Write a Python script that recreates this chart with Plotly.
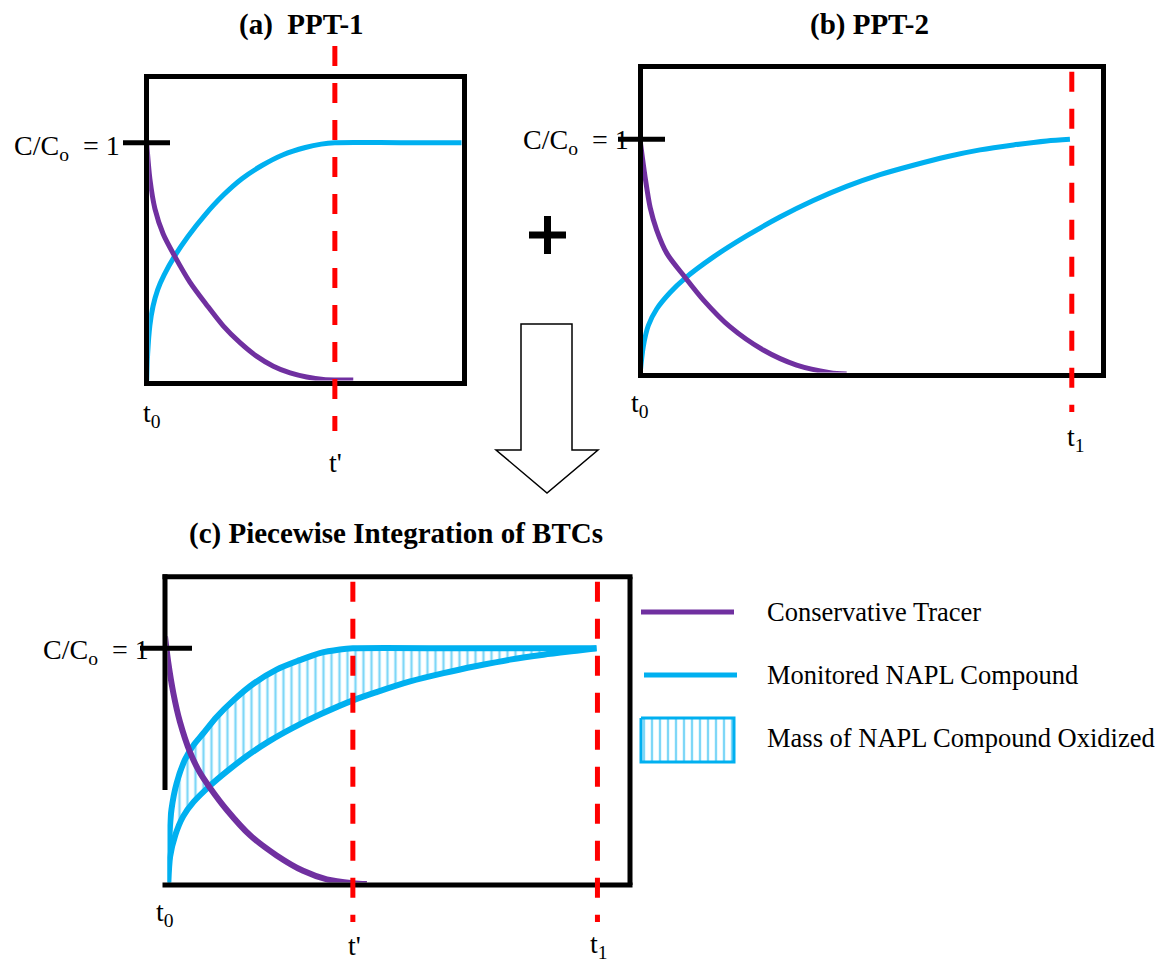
import plotly.graph_objects as go

# page geometry: the browser puts an 8px body margin round the figure
REF_W, REF_H = 1163, 963
OFF = 8
FW, FH = REF_W - OFF, REF_H - OFF

# ---------------- data (time axis: box width = 10 units) ----------------
# (a) PPT-1
a_tracer_t = [0.00, 0.10, 0.26, 0.52, 0.89, 1.36, 1.89, 2.41, 2.94, 3.46, 3.99, 4.52, 5.04, 5.57, 6.51]
a_tracer_c = [1.00, 0.85, 0.725, 0.62, 0.526, 0.42, 0.325, 0.238, 0.168, 0.112, 0.070, 0.042, 0.025, 0.015, 0.012]
a_napl_t = [0.00, 0.03, 0.10, 0.20, 0.35, 0.55, 0.89, 1.30, 1.84, 2.40, 3.00, 3.63, 4.30, 5.00, 5.50, 5.93, 8.00, 10.0]
a_napl_c = [0.00, 0.12, 0.24, 0.32, 0.39, 0.45, 0.53, 0.61, 0.70, 0.78, 0.85, 0.905, 0.95, 0.98, 0.994, 1.00, 1.00, 1.00]
a_t_prime = 5.93

# (b) PPT-2
b_tracer_t = [0.00, 0.11, 0.22, 0.36, 0.58, 0.97, 1.37, 1.94, 2.66, 3.38, 4.10, 4.46]
b_tracer_c = [1.00, 0.84, 0.71, 0.615, 0.516, 0.415, 0.318, 0.205, 0.106, 0.042, 0.010, 0.004]
b_napl_t = [0.00, 0.07, 0.18, 0.36, 0.65, 0.97, 1.58, 2.30, 3.02, 3.74, 4.46, 5.18, 5.90, 6.62, 7.34, 8.06, 8.78, 9.28]
b_napl_c = [0.00, 0.12, 0.21, 0.28, 0.35, 0.41, 0.50, 0.59, 0.67, 0.74, 0.80, 0.85, 0.89, 0.926, 0.955, 0.976, 0.993, 1.00]
b_t1 = 9.32

# (c) piecewise integration
c_tracer_t = [0.00, 0.07, 0.18, 0.32, 0.54, 0.75, 0.97, 1.33, 1.83, 2.40, 2.97, 3.48, 4.04, 4.34]
c_tracer_c = [1.05, 0.94, 0.81, 0.69, 0.56, 0.475, 0.41, 0.317, 0.21, 0.125, 0.06, 0.024, 0.008, 0.004]
c_ppt1_t = [0.05, 0.09, 0.14, 0.25, 0.43, 0.61, 0.82, 1.11, 1.47, 1.90, 2.40, 2.90, 3.33, 3.76, 4.04, 6.50, 9.28]
c_ppt1_c = [0.00, 0.20, 0.32, 0.43, 0.53, 0.59, 0.64, 0.71, 0.78, 0.85, 0.91, 0.95, 0.98, 0.995, 1.00, 1.00, 1.00]
c_ppt2_t = [0.07, 0.11, 0.22, 0.39, 0.61, 0.97, 1.33, 1.76, 2.26, 2.76, 3.33, 4.04, 4.55, 5.27, 5.99, 6.70, 7.42, 8.14, 8.85, 9.28]
c_ppt2_c = [0.00, 0.12, 0.21, 0.29, 0.35, 0.42, 0.48, 0.545, 0.61, 0.665, 0.72, 0.78, 0.815, 0.86, 0.895, 0.925, 0.952, 0.973, 0.99, 1.00]
c_t_prime = 4.04
c_t1 = 9.30

# text
titles = ["<b>(a)  PPT-1</b>", "<b>(b) PPT-2</b>", "<b>(c) Piecewise Integration of BTCs</b>"]
ratio_label = "C/C<sub>o</sub>&nbsp; = 1"
legend_labels = ["Conservative Tracer", "Monitored NAPL Compound", "Mass of NAPL Compound Oxidized"]

# ---------------- styling ----------------
BLUE = "#00B0F0"
PURPLE = "#7030A0"
RED = "#FF0000"
FONT = "Liberation Serif, Times New Roman, serif"
LW = 5  # frame width
DASH = "20px,17px"

# frame line centres in reference pixels: left, top, right, bottom ; px per unit (x, y)
box_a = (146.7, 76.0, 464.0, 383.0)
box_b = (640.0, 66.7, 1103.3, 375.0)
box_c = (165.0, 576.7, 630.0, 885.0)
scale_a = (31.73, 240.3)
scale_b = (46.33, 235.7)
scale_c = (46.5, 236.7)


def px_x(x):
    return (x - OFF) / FW


def px_y(y):
    return 1 - (y - OFF) / FH


def axes(box, scale):
    l, t, r, b = box
    sx, sy = scale
    h = LW / 2
    xd = [px_x(l + h), px_x(r - h)]
    yd = [px_y(b - h), px_y(t + h)]
    xr = [h / sx, (r - l - h) / sx]
    yr = [h / sy, (b - t - h) / sy]
    return xd, yd, xr, yr


fig = go.Figure()


def line(x, y, color, width, xa, ya, **kw):
    fig.add_trace(go.Scatter(x=x, y=y, mode="lines", xaxis=xa, yaxis=ya,
                             line=dict(color=color, width=width, shape="spline", smoothing=0.8),
                             showlegend=False, hoverinfo="skip", **kw))


# panel (a)
line(a_napl_t, a_napl_c, BLUE, 5, "x", "y")
line(a_tracer_t, a_tracer_c, PURPLE, 5, "x", "y")
# panel (b)
line(b_napl_t, b_napl_c, BLUE, 5, "x2", "y2")
line(b_tracer_t, b_tracer_c, PURPLE, 5, "x2", "y2")
# panel (c): hatched area between PPT-2 (lower) and PPT-1 (upper)
hatch = dict(shape="|", fgcolor=BLUE, size=8, solidity=0.3)
line(c_ppt2_t, c_ppt2_c, BLUE, 6, "x3", "y3")
line(c_ppt1_t, c_ppt1_c, BLUE, 6, "x3", "y3", fill="tonexty",
     fillcolor="rgba(0,0,0,0)", fillpattern=hatch)
line(c_tracer_t, c_tracer_c, PURPLE, 6, "x3", "y3")

# legend hatch swatch (pixel overlay axis)
lg_x = [641, 734, 734, 641, 641]
lg_y = [718, 718, 762, 762, 718]
fig.add_trace(go.Scatter(x=lg_x, y=lg_y, mode="lines", xaxis="x4", yaxis="y4",
                         fill="toself", fillcolor="rgba(0,0,0,0)", fillpattern=hatch,
                         line=dict(color=BLUE, width=3), showlegend=False, hoverinfo="skip"))

frame = dict(showline=True, mirror=True, linecolor="black", linewidth=LW, showgrid=False,
             zeroline=False, showticklabels=False, ticks="", fixedrange=True)
blank = dict(showline=False, showgrid=False, zeroline=False, showticklabels=False,
             ticks="", fixedrange=True)

xa, ya, xra, yra = axes(box_a, scale_a)
xb, yb, xrb, yrb = axes(box_b, scale_b)
xc, yc, xrc, yrc = axes(box_c, scale_c)

layout = dict(
    width=FW, height=FH, margin=dict(l=0, r=0, t=0, b=0),
    paper_bgcolor="white", plot_bgcolor="rgba(0,0,0,0)",
    hovermode=False, showlegend=False,
    font=dict(family=FONT, size=28, color="black"),
    xaxis=dict(domain=xa, range=xra, anchor="y", **frame),
    yaxis=dict(domain=ya, range=yra, anchor="x", **frame),
    xaxis2=dict(domain=xb, range=xrb, anchor="y2", **frame),
    yaxis2=dict(domain=yb, range=yrb, anchor="x2", **frame),
    xaxis3=dict(domain=xc, range=xrc, anchor="y3", **blank),
    yaxis3=dict(domain=yc, range=yrc, anchor="x3", **blank),
    # overlay in reference pixel coordinates
    xaxis4=dict(domain=[0, 1], range=[OFF, REF_W], anchor="y4", **blank),
    yaxis4=dict(domain=[0, 1], range=[REF_H, OFF], anchor="x4", **blank),
)

shapes = []


def seg(x0, y0, x1, y1, color="black", width=LW, dash="solid", xref="x4", yref="y4"):
    shapes.append(dict(type="line", x0=x0, y0=y0, x1=x1, y1=y1, xref=xref, yref=yref,
                       line=dict(color=color, width=width, dash=dash), layer="above"))


# frame of panel (c) (left edge partially open as in the original)
l, t, r, b = box_c
h = LW / 2
seg(l - h, t, r + h, t)
seg(l - h, b, r + h, b)
seg(r, t, r, b)
seg(l, t - h, l, 790)

# C/Co = 1 ticks (y from data)
seg(123, 1, 170, 1, yref="y")
seg(618, 1, 665, 1, yref="y2")
seg(140, 1, 192, 1, yref="y3")

# red dashed time markers (x from data)
seg(a_t_prime, 46, a_t_prime, 431, RED, 5, DASH, xref="x")
seg(b_t1, 71.7, b_t1, 412, RED, 5, DASH, xref="x2")
seg(c_t_prime, 581.7, c_t_prime, 922, RED, 5, DASH, xref="x3")
seg(c_t1, 581.7, c_t1, 922, RED, 5, DASH, xref="x3")

# legend line swatches
seg(641, 612, 734, 612, PURPLE, 5)
seg(644, 675, 737, 675, BLUE, 5)

# bold plus sign between (a) and (b)
seg(529, 235, 566, 235, "black", 7)
seg(547.5, 216, 547.5, 254, "black", 7)

# block arrow
arrow = [(521, 324), (572, 324), (572, 450), (598, 450), (547, 493), (496, 450), (521, 450)]
path = "M " + " L ".join(f"{x},{y}" for x, y in arrow) + " Z"
shapes.append(dict(type="path", path=path, xref="x4", yref="y4", fillcolor="white",
                   line=dict(color="black", width=1.5), layer="above"))

layout["shapes"] = shapes

ann = []


def text(x, y, s, size=28, xanchor="center", yanchor="middle"):
    ann.append(dict(x=x, y=y, xref="x4", yref="y4", text=s, showarrow=False,
                    xanchor=xanchor, yanchor=yanchor,
                    font=dict(family=FONT, size=size, color="black")))


text(301, 24, titles[0], size=29)
text(869, 24, titles[1], size=29)
text(396, 533, titles[2], size=29)
text(122, 147, ratio_label, xanchor="right")
text(631, 141, ratio_label, xanchor="right")
text(151, 651, ratio_label, xanchor="right")
text(152, 414, "t<sub>0</sub>")
text(335, 462, "t'")
text(640, 404, "t<sub>0</sub>")
text(1076, 438, "t<sub>1</sub>")
text(165, 913, "t<sub>0</sub>")
text(354, 945, "t'")
text(599, 945, "t<sub>1</sub>")
for lbl, yy in zip(legend_labels, [612, 675, 738]):
    text(765, yy, lbl, size=26.5, xanchor="left")

layout["annotations"] = ann
fig.update_layout(**layout)
fig.write_html("out.html")
